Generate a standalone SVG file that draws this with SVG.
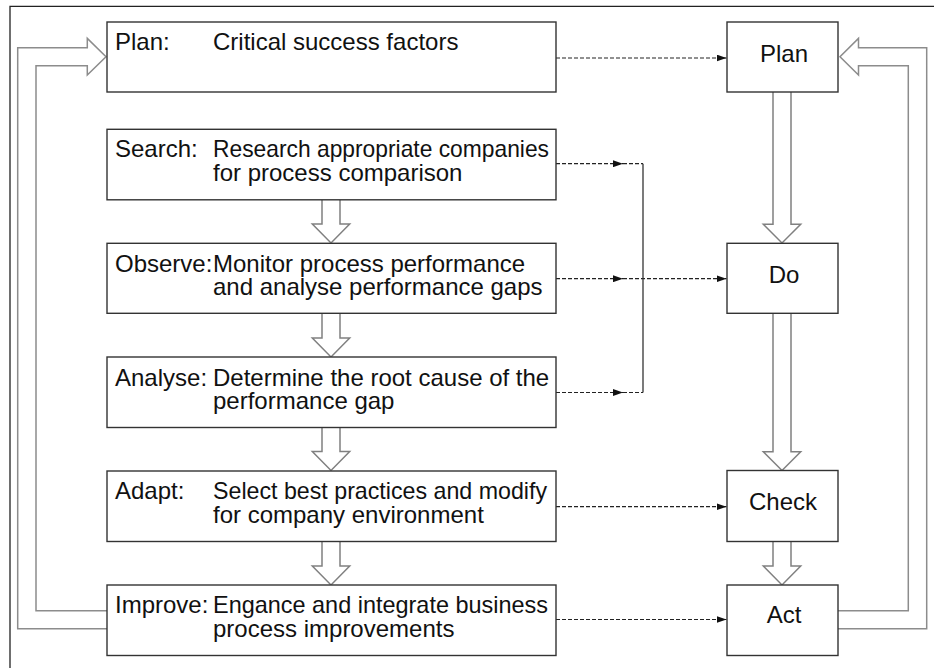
<svg xmlns="http://www.w3.org/2000/svg" width="934" height="668" viewBox="0 0 934 668">
  <style>
    .frame { fill: none; stroke: #222; stroke-width: 1.3; }
    .box { fill: #fff; stroke: #333; stroke-width: 1.4; }
    .txt { font-family: "Liberation Sans", Arial, sans-serif; font-size: 24px; fill: #111; }
    .mid { text-anchor: middle; }
    .dash { fill: none; stroke: #222; stroke-width: 1.2; stroke-dasharray: 4 2; }
    .solid { fill: none; stroke: #333; stroke-width: 1.3; }
    .hollow { fill: #fff; stroke: #808080; stroke-width: 1.5; stroke-linejoin: miter; }
    .loop { fill: none; stroke: #8c8c8c; stroke-width: 1.5; }
  </style>
  <defs>
    <marker id="tip" viewBox="0 0 10 7" refX="10" refY="3.5" markerWidth="10" markerHeight="7" markerUnits="userSpaceOnUse" orient="auto">
      <path d="M0,0 L10,3.5 L0,7 Z" fill="#111"/>
    </marker>
  </defs>

  <rect width="934" height="668" fill="#fff"/>
  <!-- page frame -->
  <path class="frame" d="M10,668 V6.3 H934"/>

  <g id="connectors">
    <!-- feedback loops from Improve/Act back to Plan -->
    <path class="loop" d="M107,610.7 H36 V65.7 H87.3 V75 L106,56.7 L87.3,38.4 V47.7 H17.7 V628.7 H107"/>
    <path class="loop" d="M838,610.7 H908.3 V65.7 H858.5 V75 L840,56.7 L858.5,38.4 V47.7 H926.7 V628.7 H838"/>

    <!-- hollow block arrows, left column -->
    <path class="hollow" d="M322,200 V224 H312.3 L331,243 L349.7,224 H340 V200"/>
    <path class="hollow" d="M322,313.5 V338 H312.3 L331,357 L349.7,338 H340 V313.5"/>
    <path class="hollow" d="M322,427.5 V451.5 H312.3 L331,470.5 L349.7,451.5 H340 V427.5"/>
    <path class="hollow" d="M322,541.5 V566 H312.3 L331,585 L349.7,566 H340 V541.5"/>

    <!-- hollow block arrows, PDCA column -->
    <path class="hollow" d="M773,92 V224.3 H763.3 L782,243 L800.7,224.3 H791 V92"/>
    <path class="hollow" d="M773,313.5 V451.7 H763.3 L782,470.5 L800.7,451.7 H791 V313.5"/>
    <path class="hollow" d="M773,541.5 V566 H763.3 L782,585 L800.7,566 H791 V541.5"/>

    <!-- dashed links -->
    <path class="dash" d="M556,58 H726.5" marker-end="url(#tip)"/>
    <path class="dash" d="M556,163.7 H623" marker-end="url(#tip)"/>
    <path class="dash" d="M623,163.7 H643"/>
    <path class="dash" d="M556,278.7 H623" marker-end="url(#tip)"/>
    <path class="dash" d="M623,278.7 H726.5" marker-end="url(#tip)"/>
    <path class="dash" d="M556,392.5 H623" marker-end="url(#tip)"/>
    <path class="dash" d="M623,392.5 H643"/>
    <path class="solid" d="M643,163.7 V392.5"/>
    <path class="dash" d="M556,506.7 H726.5" marker-end="url(#tip)"/>
    <path class="dash" d="M556,619.5 H726.5" marker-end="url(#tip)"/>
  </g>

  <!-- benchmarking steps -->
  <g id="step-plan">
    <rect class="box" x="107" y="22" width="449" height="70"/>
    <text class="txt" x="115" y="50">Plan:</text>
    <text class="txt" x="213" y="50">Critical success factors</text>
  </g>
  <g id="step-search">
    <rect class="box" x="107" y="129.3" width="449" height="70.5"/>
    <text class="txt" x="115" y="157">Search:</text>
    <text class="txt" x="213" y="157" textLength="336" lengthAdjust="spacingAndGlyphs">Research appropriate companies</text>
    <text class="txt" x="213" y="180.5">for process comparison</text>
  </g>
  <g id="step-observe">
    <rect class="box" x="107" y="243.3" width="449" height="70"/>
    <text class="txt" x="115" y="271.5">Observe:</text>
    <text class="txt" x="213" y="271.5">Monitor process performance</text>
    <text class="txt" x="213" y="295">and analyse performance gaps</text>
  </g>
  <g id="step-analyse">
    <rect class="box" x="107" y="357" width="449" height="70.5"/>
    <text class="txt" x="115" y="385.5">Analyse:</text>
    <text class="txt" x="213" y="385.5">Determine the root cause of the</text>
    <text class="txt" x="213" y="409">performance gap</text>
  </g>
  <g id="step-adapt">
    <rect class="box" x="107" y="471" width="449" height="70.5"/>
    <text class="txt" x="115" y="499">Adapt:</text>
    <text class="txt" x="213" y="499" textLength="334" lengthAdjust="spacingAndGlyphs">Select best practices and modify</text>
    <text class="txt" x="213" y="522.5">for company environment</text>
  </g>
  <g id="step-improve">
    <rect class="box" x="107" y="585" width="449" height="70.5"/>
    <text class="txt" x="115" y="612.5">Improve:</text>
    <text class="txt" x="213" y="612.5" textLength="335" lengthAdjust="spacingAndGlyphs">Engance and integrate business</text>
    <text class="txt" x="213" y="636.5">process improvements</text>
  </g>

  <!-- PDCA cycle -->
  <g id="pdca-plan">
    <rect class="box" x="727" y="22" width="111" height="70"/>
    <text class="txt mid" x="784" y="61.5">Plan</text>
  </g>
  <g id="pdca-do">
    <rect class="box" x="727" y="243.3" width="111" height="70"/>
    <text class="txt mid" x="784" y="283.3">Do</text>
  </g>
  <g id="pdca-check">
    <rect class="box" x="727" y="470.5" width="111" height="71"/>
    <text class="txt mid" x="783" y="510">Check</text>
  </g>
  <g id="pdca-act">
    <rect class="box" x="727" y="585" width="111" height="70.5"/>
    <text class="txt mid" x="784" y="622.5">Act</text>
  </g>
</svg>
